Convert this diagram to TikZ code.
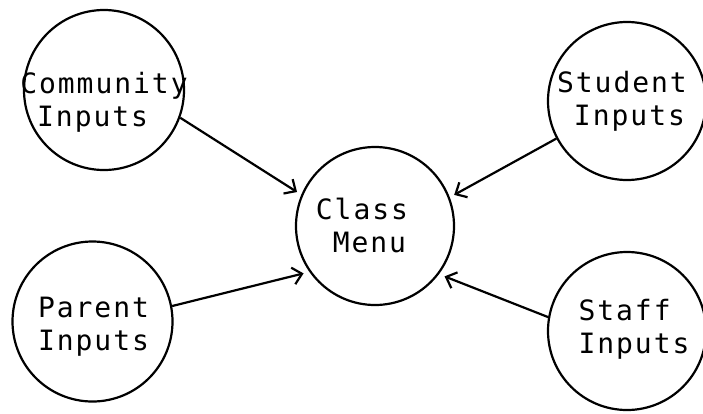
\documentclass[tikz,border=0pt]{standalone}
\usepackage{fontspec}
\setmonofont[LetterSpace=7]{DejaVu Sans Mono}
\usetikzlibrary{arrows.meta}
\begin{document}
\begin{tikzpicture}[x=1pt,y=-1pt,
  bubble/.style={circle,draw,line width=2.2pt,minimum size=#1,inner sep=0pt},
  bubble/.default=160pt,
  lbl/.style={align=left,inner sep=0pt,font=\ttfamily\fontsize{28}{33}\selectfont},
  flow/.style={line width=2.2pt,-{Straight Barb[length=9pt,width=17pt,line width=2.2pt]}}]
\useasboundingbox (0,0) rectangle (703,413);
\fill[white] (0,0) rectangle (703,413);
\node[bubble] (comm) at (104,90) {};
\node[bubble=158pt] (stud) at (627,101) {};
\node[bubble=158pt] (menu) at (375,226) {};
\node[bubble] (par) at (92.5,321.5) {};
\node[bubble=158pt] (staff) at (627,331) {};
\node[lbl] (commt) at (104,102) {Community\\\phantom{C}Inputs};
\node[lbl] (studt) at (622,101) {Student\\\phantom{S}Inputs};
\node[lbl] (menut) at (362,225) {Class\\\phantom{C}Menu};
\node[lbl] (part) at (93.5,327) {Parent\\Inputs};
\node[lbl] (stafft) at (634,329) {Staff\\Inputs};
\draw[flow,shorten >=5pt] (comm.-20.8) -- (menu.157);
\draw[flow,shorten >=5pt] (stud.208.7) -- (menu.21.7);
\draw[flow,shorten >=6pt] (par.11.7) -- (menu.215);
\draw[flow,shorten >=6pt] (staff.170.7) -- (menu.-37.8);
\end{tikzpicture}
\end{document}
